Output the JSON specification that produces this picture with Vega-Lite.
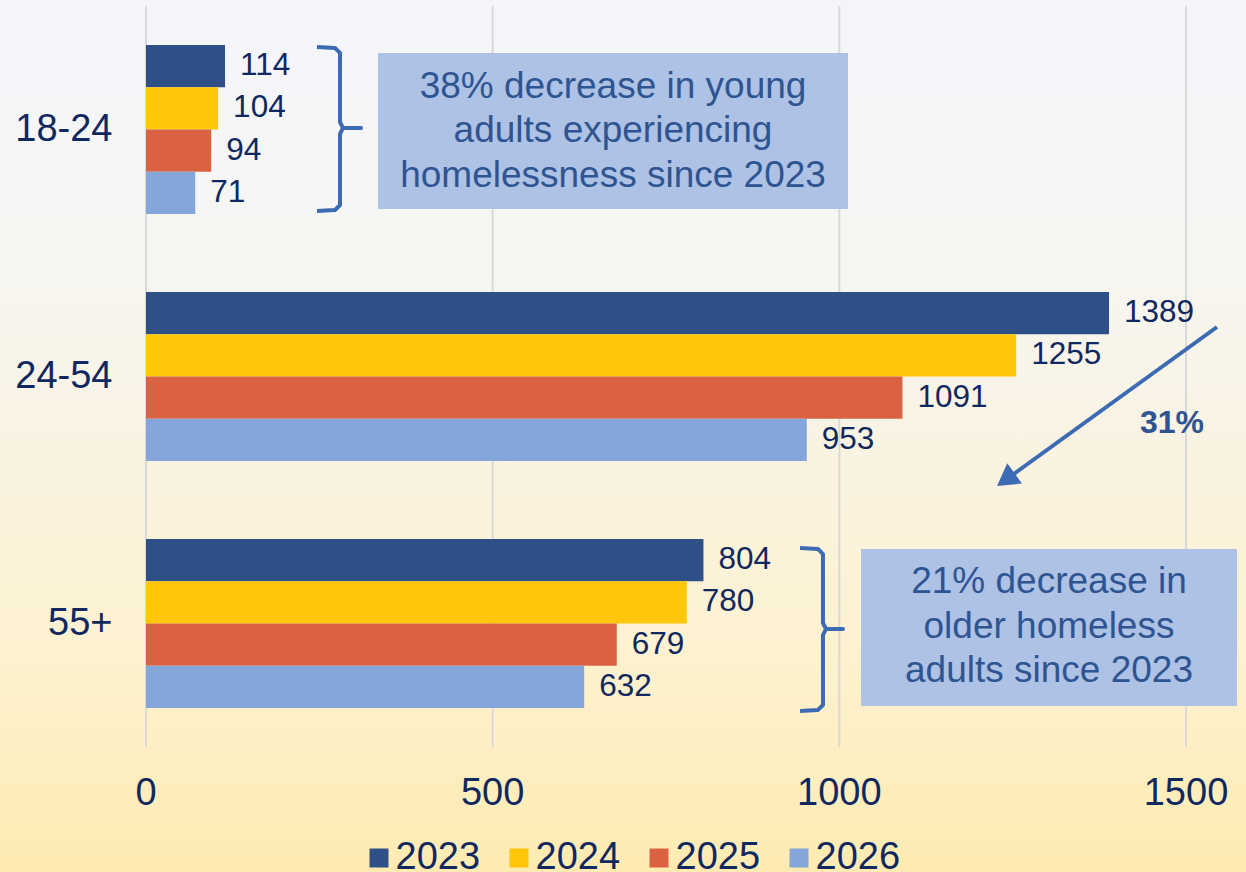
{
  "$schema": "https://vega.github.io/schema/vega-lite/v6.json",
  "width": 1246,
  "height": 872,
  "autosize": {"type": "none"},
  "padding": 0,
  "background": "#fdf0c4",
  "view": {
    "stroke": null,
    "fill": {
      "gradient": "linear", "x1": 0, "y1": 0, "x2": 0, "y2": 1,
      "stops": [
        {"offset": 0, "color": "#f4f5fb"},
        {"offset": 0.27, "color": "#f6f6f3"},
        {"offset": 0.5, "color": "#f9f3e3"},
        {"offset": 0.75, "color": "#fdf2d0"},
        {"offset": 1, "color": "#feebb2"}
      ]
    }
  },
  "config": {"font": "Liberation Sans"},
  "datasets": {
    "counts": [
      {"age": "18-24", "year": "2023", "count": 114},
      {"age": "18-24", "year": "2024", "count": 104},
      {"age": "18-24", "year": "2025", "count": 94},
      {"age": "18-24", "year": "2026", "count": 71},
      {"age": "24-54", "year": "2023", "count": 1389},
      {"age": "24-54", "year": "2024", "count": 1255},
      {"age": "24-54", "year": "2025", "count": 1091},
      {"age": "24-54", "year": "2026", "count": 953},
      {"age": "55+", "year": "2023", "count": 804},
      {"age": "55+", "year": "2024", "count": 780},
      {"age": "55+", "year": "2025", "count": 679},
      {"age": "55+", "year": "2026", "count": 632}
    ],
    "grid": [{"v": 0}, {"v": 500}, {"v": 1000}, {"v": 1500}],
    "boxes": [
      {"x1": 334.6, "x2": 1012.5, "y1": 0.190, "y2": 0.822},
      {"x1": 1031.3, "x2": 1573.6, "y1": 2.198, "y2": 2.834}
    ],
    "notes": [
      {"x": 673.6, "y": 0.326, "t": "38% decrease in young\nadults experiencing\nhomelessness since 2023"},
      {"x": 1302.4, "y": 2.334, "t": "21% decrease in\nolder homeless\nadults since 2023"}
    ],
    "brace": [
      {"id": "a", "o": 0, "x": 246.6, "y": 0.166},
      {"id": "a", "o": 1, "x": 272.6, "y": 0.170},
      {"id": "a", "o": 2, "x": 279.8, "y": 0.190},
      {"id": "a", "o": 3, "x": 279.8, "y": 0.470},
      {"id": "a", "o": 4, "x": 284.1, "y": 0.494},
      {"id": "a", "o": 5, "x": 310.1, "y": 0.494},
      {"id": "a", "o": 6, "x": 284.1, "y": 0.494},
      {"id": "a", "o": 7, "x": 279.8, "y": 0.518},
      {"id": "a", "o": 8, "x": 279.8, "y": 0.806},
      {"id": "a", "o": 9, "x": 272.6, "y": 0.826},
      {"id": "a", "o": 10, "x": 246.6, "y": 0.830},
      {"id": "b", "o": 0, "x": 943.3, "y": 2.194},
      {"id": "b", "o": 1, "x": 969.2, "y": 2.198},
      {"id": "b", "o": 2, "x": 976.4, "y": 2.219},
      {"id": "b", "o": 3, "x": 976.4, "y": 2.498},
      {"id": "b", "o": 4, "x": 980.8, "y": 2.522},
      {"id": "b", "o": 5, "x": 1005.3, "y": 2.522},
      {"id": "b", "o": 6, "x": 980.8, "y": 2.522},
      {"id": "b", "o": 7, "x": 976.4, "y": 2.547},
      {"id": "b", "o": 8, "x": 976.4, "y": 2.830},
      {"id": "b", "o": 9, "x": 969.2, "y": 2.850},
      {"id": "b", "o": 10, "x": 943.3, "y": 2.854}
    ],
    "arrow": [
      {"o": 0, "x": 1544.7, "y": 1.2996},
      {"o": 1, "x": 1240.1, "y": 1.918}
    ],
    "head": [{"x": 1240.1, "y": 1.918}],
    "pct": [{"x": 1479.8, "y": 1.688, "t": "31%"}]
  },
  "resolve": {"scale": {"y": "independent"}, "axis": {"y": "independent"}},
  "layer": [
    {
      "data": {"name": "grid"},
      "mark": {"type": "rule", "color": "#d9d9d9", "strokeWidth": 2},
      "encoding": {
        "x": {"field": "v", "type": "quantitative", "scale": {"domain": [0, 1500], "range": [146, 1186], "nice": false}, "axis": null},
        "y": {"datum": 0, "type": "quantitative", "scale": {"domain": [0, 3], "range": [6, 747], "nice": false, "zero": false}, "axis": null},
        "y2": {"datum": 3}
      }
    },
    {
      "data": {"name": "grid"},
      "mark": {"type": "text", "align": "center", "baseline": "alphabetic", "fontSize": 38, "color": "#10285f"},
      "encoding": {
        "x": {"field": "v", "type": "quantitative", "scale": {"domain": [0, 1500], "range": [146, 1186], "nice": false}, "axis": null},
        "y": {"datum": 3.2348, "type": "quantitative", "scale": {"domain": [0, 3], "range": [6, 747], "nice": false, "zero": false}, "axis": null},
        "text": {"field": "v", "type": "quantitative"}
      }
    },
    {
      "data": {"name": "counts"},
      "mark": {"type": "bar"},
      "encoding": {
        "y": {
          "field": "age", "type": "nominal",
          "scale": {"domain": ["18-24", "24-54", "55+"], "range": [6, 747], "paddingInner": 0.316, "paddingOuter": 0.158},
          "axis": {"title": null, "orient": "left", "offset": -112, "ticks": false, "tickSize": 0, "domain": false, "grid": false, "labelPadding": 0, "labelFontSize": 38, "labelColor": "#10285f", "labelAlign": "right", "labelBaseline": "middle", "labelFont": "Liberation Sans"}
        },
        "yOffset": {"field": "year", "type": "nominal", "scale": {"domain": ["2023", "2024", "2025", "2026"]}},
        "x": {"field": "count", "type": "quantitative", "scale": {"domain": [0, 1500], "range": [146, 1186], "nice": false}, "axis": null},
        "color": {
          "field": "year", "type": "nominal",
          "scale": {"domain": ["2023", "2024", "2025", "2026"], "range": ["#2e5086", "#ffc60a", "#da6242", "#85a6da"]},
          "legend": {"title": null, "orient": "none", "legendX": 360, "legendY": 839, "direction": "horizontal", "columns": 4, "symbolType": "square", "symbolSize": 361, "symbolStrokeWidth": 0, "labelFontSize": 38, "labelColor": "#10285f", "labelOffset": -2.5, "columnPadding": 19, "padding": 0, "labelFont": "Liberation Sans", "labelBaseline": "middle"}
        }
      }
    },
    {
      "data": {"name": "counts"},
      "mark": {"type": "text", "align": "left", "baseline": "middle", "dx": 15, "fontSize": 31.5, "color": "#10285f"},
      "encoding": {
        "y": {"field": "age", "type": "nominal", "scale": {"domain": ["18-24", "24-54", "55+"], "range": [6, 747], "paddingInner": 0.316, "paddingOuter": 0.158}, "axis": null},
        "yOffset": {"field": "year", "type": "nominal", "scale": {"domain": ["2023", "2024", "2025", "2026"]}},
        "x": {"field": "count", "type": "quantitative", "scale": {"domain": [0, 1500], "range": [146, 1186], "nice": false}, "axis": null},
        "text": {"field": "count", "type": "quantitative"}
      }
    },
    {
      "data": {"name": "boxes"},
      "mark": {"type": "rect", "color": "#adc2e4"},
      "encoding": {
        "x": {"field": "x1", "type": "quantitative", "scale": {"domain": [0, 1500], "range": [146, 1186], "nice": false}, "axis": null},
        "x2": {"field": "x2"},
        "y": {"field": "y1", "type": "quantitative", "scale": {"domain": [0, 3], "range": [6, 747], "nice": false, "zero": false}, "axis": null},
        "y2": {"field": "y2"}
      }
    },
    {
      "data": {"name": "notes"},
      "mark": {"type": "text", "align": "center", "baseline": "middle", "fontSize": 37, "color": "#2f5492", "lineBreak": "\n", "lineHeight": 44.5},
      "encoding": {
        "x": {"field": "x", "type": "quantitative", "scale": {"domain": [0, 1500], "range": [146, 1186], "nice": false}, "axis": null},
        "y": {"field": "y", "type": "quantitative", "scale": {"domain": [0, 3], "range": [6, 747], "nice": false, "zero": false}, "axis": null},
        "text": {"field": "t", "type": "nominal"}
      }
    },
    {
      "data": {"name": "brace"},
      "mark": {"type": "line", "color": "#3d6bb3", "strokeWidth": 4, "interpolate": "linear", "strokeJoin": "round"},
      "encoding": {
        "x": {"field": "x", "type": "quantitative", "scale": {"domain": [0, 1500], "range": [146, 1186], "nice": false}, "axis": null},
        "y": {"field": "y", "type": "quantitative", "scale": {"domain": [0, 3], "range": [6, 747], "nice": false, "zero": false}, "axis": null},
        "detail": {"field": "id", "type": "nominal"},
        "order": {"field": "o", "type": "quantitative"}
      }
    },
    {
      "data": {"name": "arrow"},
      "mark": {"type": "line", "color": "#3d6bb3", "strokeWidth": 4},
      "encoding": {
        "x": {"field": "x", "type": "quantitative", "scale": {"domain": [0, 1500], "range": [146, 1186], "nice": false}, "axis": null},
        "y": {"field": "y", "type": "quantitative", "scale": {"domain": [0, 3], "range": [6, 747], "nice": false, "zero": false}, "axis": null},
        "order": {"field": "o", "type": "quantitative"}
      }
    },
    {
      "data": {"name": "head"},
      "mark": {"type": "point", "shape": "triangle-up", "filled": true, "color": "#3d6bb3", "opacity": 1, "size": 625, "angle": 234},
      "encoding": {
        "x": {"field": "x", "type": "quantitative", "scale": {"domain": [0, 1500], "range": [146, 1186], "nice": false}, "axis": null},
        "y": {"field": "y", "type": "quantitative", "scale": {"domain": [0, 3], "range": [6, 747], "nice": false, "zero": false}, "axis": null}
      }
    },
    {
      "data": {"name": "pct"},
      "mark": {"type": "text", "align": "center", "baseline": "middle", "fontSize": 32, "fontWeight": "bold", "color": "#2f5492"},
      "encoding": {
        "x": {"field": "x", "type": "quantitative", "scale": {"domain": [0, 1500], "range": [146, 1186], "nice": false}, "axis": null},
        "y": {"field": "y", "type": "quantitative", "scale": {"domain": [0, 3], "range": [6, 747], "nice": false, "zero": false}, "axis": null},
        "text": {"field": "t", "type": "nominal"}
      }
    }
  ]
}
